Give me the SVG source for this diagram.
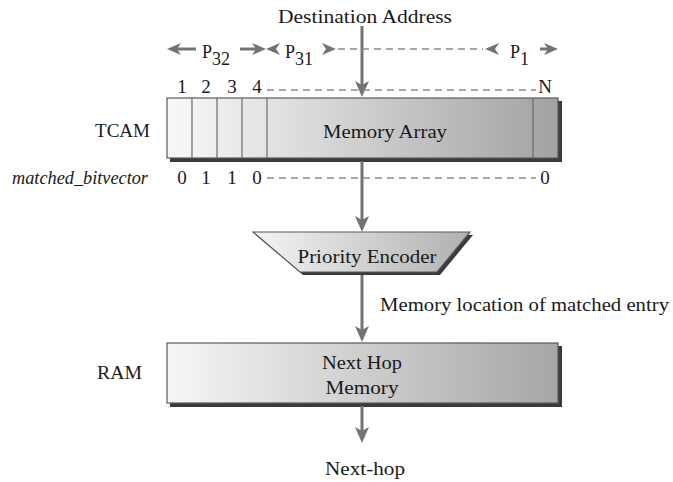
<svg xmlns="http://www.w3.org/2000/svg" xmlns:xlink="http://www.w3.org/1999/xlink" width="673" height="482" viewBox="0 0 673 482">
<style>
text{font-family:"Liberation Serif","Times New Roman",serif;fill:#1a1a1a;font-size:18px}
.mid{text-anchor:middle}
.end{text-anchor:end}
.it{font-style:italic}
.num{font-size:19px}
.box{stroke:#5a5a5a;stroke-width:1.2}
.shadow{fill:#3a3a3a}
.div{stroke:#6a6a6a;stroke-width:1.2}
.arr{stroke:#737373;stroke-width:3;fill:none}
.sarr{stroke:#737373;stroke-width:3;fill:none}
.dash{stroke:#8a8a8a;stroke-width:1.4;stroke-dasharray:7 5;fill:none}
.head{fill:#737373}
</style>
<defs>
<linearGradient id="gT" x1="167" y1="0" x2="558" y2="0" gradientUnits="userSpaceOnUse">
<stop offset="0" stop-color="#f8f8f8"/><stop offset="0.25" stop-color="#e4e4e4"/><stop offset="1" stop-color="#a2a2a2"/>
</linearGradient>
<linearGradient id="gR" x1="167" y1="0" x2="558" y2="0" gradientUnits="userSpaceOnUse">
<stop offset="0" stop-color="#f6f6f6"/><stop offset="1" stop-color="#a6a6a6"/>
</linearGradient>
<linearGradient id="gP" x1="253" y1="0" x2="470" y2="0" gradientUnits="userSpaceOnUse">
<stop offset="0" stop-color="#f4f4f4"/><stop offset="1" stop-color="#b0b0b0"/>
</linearGradient>
<marker id="ah" viewBox="0 0 16 14" refX="8" refY="7" markerWidth="16" markerHeight="14" markerUnits="userSpaceOnUse" orient="auto">
<path d="M0,0 L16,7 L0,14 L4,7 z" fill="#737373"/>
</marker>
<marker id="sh" viewBox="0 0 14 12" refX="6" refY="6" markerWidth="14" markerHeight="12" markerUnits="userSpaceOnUse" orient="auto">
<path d="M0,0 L14,6 L0,12 L4,6 z" fill="#737373"/>
</marker>
<path id="hd" d="M0,0 L-14,-6 L-10,0 L-14,6 z"/>
</defs>

<g id="tcam">
<rect class="shadow" x="170" y="101" width="392" height="61"/>
<rect class="box" x="167" y="98" width="391" height="60" fill="url(#gT)"/>
<line class="div" x1="192" y1="98" x2="192" y2="158"/>
<line class="div" x1="217" y1="98" x2="217" y2="158"/>
<line class="div" x1="242" y1="98" x2="242" y2="158"/>
<line class="div" x1="267" y1="98" x2="267" y2="158"/>
<line class="div" x1="533" y1="98" x2="533" y2="158"/>
<text class="mid" x="385" y="138" textLength="124" lengthAdjust="spacingAndGlyphs">Memory Array</text>
<text class="mid num" x="182" y="93">1</text>
<text class="mid num" x="206" y="93">2</text>
<text class="mid num" x="232" y="93">3</text>
<text class="mid num" x="257" y="93">4</text>
<text class="mid num" x="545" y="93">N</text>
</g>
<g id="tcam-label"><text class="end" x="150" y="137" textLength="55" lengthAdjust="spacingAndGlyphs">TCAM</text></g>
<g id="bitvector">
<text class="end it" x="148" y="184" textLength="136" lengthAdjust="spacingAndGlyphs">matched_bitvector</text>
<text class="mid num" x="182" y="184">0</text>
<text class="mid num" x="206" y="184">1</text>
<text class="mid num" x="232" y="184">1</text>
<text class="mid num" x="257" y="184">0</text>
<text class="mid num" x="545" y="184">0</text>
</g>
<g id="encoder">
<path class="shadow" d="M256,235 L473,235 L440,275 L303,275 z"/>
<path class="box" d="M253,232 L470,232 L437,272 L300,272 z" fill="url(#gP)"/>
<text class="mid" x="367" y="263" textLength="139" lengthAdjust="spacingAndGlyphs">Priority Encoder</text>
</g>
<g id="ram">
<rect class="shadow" x="170" y="346" width="392" height="61"/>
<rect class="box" x="167" y="343" width="391" height="60" fill="url(#gR)"/>
<text class="mid" x="362" y="369" textLength="80" lengthAdjust="spacingAndGlyphs">Next Hop</text>
<text class="mid" x="362" y="394" textLength="73" lengthAdjust="spacingAndGlyphs">Memory</text>
</g>
<g id="ram-label"><text class="end" x="142" y="379" textLength="45" lengthAdjust="spacingAndGlyphs">RAM</text></g>
<g id="labels">
<text class="mid" x="365" y="23" textLength="174" lengthAdjust="spacingAndGlyphs">Destination Address</text>
<text x="202" y="58" font-size="20">P<tspan font-size="18" dy="7">32</tspan></text>
<text x="285" y="58" font-size="20">P<tspan font-size="18" dy="7">31</tspan></text>
<text x="510" y="58" font-size="20">P<tspan font-size="18" dy="7">1</tspan></text>
<text x="380" y="311" textLength="289" lengthAdjust="spacingAndGlyphs">Memory location of matched entry</text>
<text class="mid" x="365" y="475" textLength="80" lengthAdjust="spacingAndGlyphs">Next-hop</text>
</g>
<g id="connectors">
<path class="arr" d="M362,26 V89" marker-end="url(#ah)"/>
<path class="arr" d="M362,161 V224" marker-end="url(#ah)"/>
<path class="arr" d="M362,275 V334" marker-end="url(#ah)"/>
<path class="arr" d="M362,406 V435" marker-end="url(#ah)"/>
<path class="sarr" d="M196,49 H175" marker-end="url(#sh)"/>
<path class="sarr" d="M240,49 H258" marker-end="url(#sh)"/>
<use href="#hd" xlink:href="#hd" class="head" transform="translate(266,49) rotate(180)"/>
<use href="#hd" xlink:href="#hd" class="head" transform="translate(336,49)"/>
<path class="dash" d="M338,49 H483"/>
<use href="#hd" xlink:href="#hd" class="head" transform="translate(485,49) rotate(180)"/>
<path class="sarr" d="M540,49 H550" marker-end="url(#sh)"/>
<path class="dash" d="M267,90 H536"/>
<path class="dash" d="M267,178 H536"/>
</g>
</svg>
